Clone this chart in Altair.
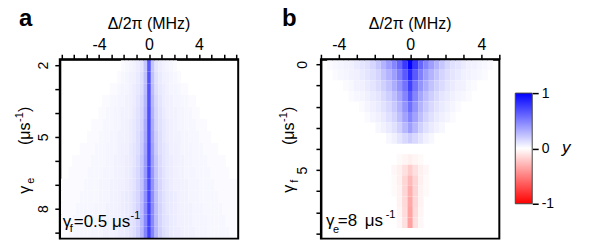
import altair as alt
import pandas as pd

FONT = "Liberation Sans"

# Cell sizes of the two maps
DELTA_STEP = 0.3   # MHz
GAMMA_STEP = 0.5   # 1/us

# Panel a: rows of gamma_e, each row given as a half-profile from Delta = 0 outward
gamma_e_rows = [2.0, 2.5, 3.0, 3.5, 4.0, 4.5, 5.0, 5.5, 6.0, 6.5, 7.0, 7.5, 8.0, 8.5, 9.0]
profiles_a = [
    [0.66, 0.22, 0.10, 0.07, 0.05, 0.04, 0.03, 0.02],
    [0.67, 0.24, 0.12, 0.08, 0.06, 0.05, 0.04, 0.03, 0.02],
    [0.68, 0.26, 0.13, 0.09, 0.07, 0.05, 0.04, 0.04, 0.03, 0.02, 0.02],
    [0.68, 0.28, 0.15, 0.10, 0.07, 0.06, 0.05, 0.04, 0.04, 0.03, 0.03, 0.02, 0.02],
    [0.69, 0.30, 0.16, 0.11, 0.08, 0.06, 0.05, 0.05, 0.04, 0.04, 0.03, 0.03, 0.02, 0.02],
    [0.70, 0.32, 0.17, 0.12, 0.09, 0.07, 0.06, 0.05, 0.04, 0.04, 0.03, 0.03, 0.03, 0.02, 0.02, 0.02],
    [0.70, 0.34, 0.19, 0.13, 0.09, 0.07, 0.06, 0.05, 0.05, 0.04, 0.04, 0.03, 0.03, 0.03, 0.02, 0.02, 0.02],
    [0.71, 0.36, 0.20, 0.13, 0.10, 0.08, 0.06, 0.06, 0.05, 0.04, 0.04, 0.04, 0.03, 0.03, 0.03, 0.02, 0.02, 0.02, 0.02],
    [0.71, 0.38, 0.22, 0.14, 0.10, 0.08, 0.07, 0.06, 0.05, 0.05, 0.04, 0.04, 0.03, 0.03, 0.03, 0.03, 0.02, 0.02, 0.02, 0.02, 0.02],
    [0.72, 0.40, 0.23, 0.15, 0.11, 0.08, 0.07, 0.06, 0.05, 0.05, 0.04, 0.04, 0.04, 0.03, 0.03, 0.03, 0.03, 0.02, 0.02, 0.02, 0.02, 0.02],
    [0.72, 0.42, 0.24, 0.16, 0.11, 0.09, 0.07, 0.06, 0.06, 0.05, 0.05, 0.04, 0.04, 0.04, 0.03, 0.03, 0.03, 0.03, 0.02, 0.02, 0.02, 0.02, 0.02, 0.02],
    [0.73, 0.44, 0.25, 0.16, 0.12, 0.09, 0.08, 0.07, 0.06, 0.05, 0.05, 0.04, 0.04, 0.04, 0.03, 0.03, 0.03, 0.03, 0.03, 0.02, 0.02, 0.02, 0.02, 0.02],
    [0.74, 0.45, 0.26, 0.17, 0.12, 0.09, 0.08, 0.07, 0.06, 0.05, 0.05, 0.05, 0.04, 0.04, 0.04, 0.03, 0.03, 0.03, 0.03, 0.03, 0.02, 0.02, 0.02, 0.02],
    [0.74, 0.46, 0.27, 0.17, 0.12, 0.10, 0.08, 0.07, 0.06, 0.06, 0.05, 0.05, 0.04, 0.04, 0.04, 0.04, 0.03, 0.03, 0.03, 0.03, 0.03, 0.02, 0.02, 0.02],
    [0.75, 0.48, 0.28, 0.18, 0.13, 0.10, 0.08, 0.07, 0.07, 0.06, 0.05, 0.05, 0.05, 0.04, 0.04, 0.04, 0.03, 0.03, 0.03, 0.03, 0.03, 0.03, 0.02, 0.02],
]

# Panel b: rows of gamma_f, same layout
gamma_f_rows = [0.0, 0.5, 1.0, 1.5, 2.0, 2.5, 3.0, 3.5, 4.0, 4.5, 5.0, 5.5, 6.0, 6.5, 7.0, 7.5, 8.0]
profiles_b = [
    [1.00, 0.78, 0.60, 0.48, 0.38, 0.30, 0.22, 0.16, 0.12, 0.10, 0.08, 0.06, 0.05, 0.04, 0.03, 0.02],
    [0.85, 0.65, 0.50, 0.38, 0.30, 0.23, 0.17, 0.13, 0.10, 0.08, 0.06, 0.05, 0.04, 0.03, 0.02],
    [0.75, 0.55, 0.42, 0.32, 0.24, 0.18, 0.14, 0.10, 0.08, 0.06, 0.05, 0.03, 0.02],
    [0.66, 0.48, 0.35, 0.26, 0.19, 0.14, 0.10, 0.08, 0.06, 0.04, 0.03, 0.02],
    [0.57, 0.42, 0.30, 0.21, 0.15, 0.11, 0.08, 0.06, 0.04, 0.02],
    [0.48, 0.36, 0.25, 0.17, 0.12, 0.08, 0.06, 0.04, 0.02],
    [0.38, 0.28, 0.18, 0.12, 0.08, 0.05, 0.03],
    [0.20, 0.15, 0.10, 0.06, 0.03],
    [0.00],
    [-0.06, -0.04, -0.02],
    [-0.20, -0.12, -0.06, -0.03],
    [-0.28, -0.16, -0.06, -0.02],
    [-0.32, -0.16, -0.05, -0.02],
    [-0.34, -0.15, -0.05],
    [-0.36, -0.14, -0.04],
    [-0.37, -0.12, -0.03],
    [0.00],
]

colorbar_ticks = [-1, 0, 1]


def grid(rows, profiles):
    recs = []
    for g, half in zip(rows, profiles):
        n = len(half)
        for k in range(-(n - 1), n):
            d = k * DELTA_STEP
            recs.append({
                "d0": d - DELTA_STEP / 2, "d1": d + DELTA_STEP / 2,
                "g0": g - GAMMA_STEP / 2, "g1": g + GAMMA_STEP / 2,
                "v": half[abs(k)],
            })
    return pd.DataFrame(recs)


df_a = grid(gamma_e_rows, profiles_a)
df_b = grid(gamma_f_rows, profiles_b)
one = pd.DataFrame({"k": [0]})

cscale = alt.Scale(domain=[-1, 0, 1], range=["#ff0000", "#ffffff", "#0000ff"], interpolate="rgb")

W, H = 179, 180
neg = "(datum.value < 0 ? '-' : '') + abs(datum.value)"


def heat(df, xdom, xticks, ydom, yticks, ylabel_test, ylabpad):
    return alt.Chart(df).mark_rect(clip=True).encode(
        x=alt.X("d0:Q", scale=alt.Scale(domain=xdom, nice=False, zero=False),
                axis=alt.Axis(orient="top", values=xticks, title=None, labelFlush=False,
                              labelExpr=f"datum.value % 4 === 0 ? {neg} : ''",
                              labelFontSize=16, labelPadding=5, labelBaseline="alphabetic")),
        x2="d1:Q",
        y=alt.Y("g0:Q", scale=alt.Scale(domain=ydom, reverse=True, nice=False, zero=False),
                axis=alt.Axis(orient="left", values=yticks, title=None, labelFlush=False,
                              labelExpr=f"{ylabel_test} ? '' + datum.value : ''",
                              labelAngle=270, labelAlign="center", labelBaseline="alphabetic",
                              labelFontSize=14, labelPadding=ylabpad)),
        y2="g1:Q",
        color=alt.Color("v:Q", scale=cscale, legend=None),
    )


def txt(s, x, y, size=16, angle=0, weight="normal", style="normal", align="left"):
    return alt.Chart(one).mark_text(
        text=s, font=FONT, fontSize=size, angle=angle, fontWeight=weight,
        fontStyle=style, align=align, baseline="alphabetic", color="black",
    ).encode(x=alt.value(x), y=alt.value(y))


# whole-figure extent (transparent) that fixes the drawing size
extent = alt.Chart(one).mark_rect(fill="white", opacity=0).encode(
    x=alt.value(-59), x2=alt.value(538), y=alt.value(-58), y2=alt.value(192))

# black box around each plot area, drawn above the cells
box = alt.Chart(one).mark_rect(fillOpacity=0, stroke="black", strokeWidth=2).encode(
    x=alt.value(0), x2=alt.value(W), y=alt.value(0), y2=alt.value(H))

heat_a = heat(df_a, [-7.15, 7.15], list(range(-7, 8)), [1.75, 9.25], list(range(2, 10)),
              "(datum.value - 2) % 3 === 0", 7)

panel_a = alt.layer(
    extent,
    heat_a,
    box,
    txt("a", -41, -33, size=24, weight="bold"),
    txt("Δ/2π (MHz)", 89.5, -30, align="center"),
    txt("γ", -30, 135, angle=270),
    txt("e", -26, 125, size=11, angle=270),
    txt("(μs", -30, 86, angle=270),
    txt("-1", -37, 63, size=11, angle=270),
    txt(")", -30, 53, angle=270),
    txt("γ", 3, 168, size=17),
    txt("f", 10, 173, size=11),
    txt("=0.5 μs", 14, 168, size=17),
    txt("-1", 71, 160, size=11),
).properties(width=W, height=H)

heat_b = heat(df_b, [-5, 5], list(range(-5, 6)), [-0.25, 8.25], list(range(0, 9)),
              "datum.value % 5 === 0", 9)

colorbar = alt.Chart(pd.DataFrame({"lo": [-1], "hi": [1]})).mark_rect(
    fill=alt.Gradient(
        gradient="linear",
        stops=[alt.GradientStop(color="#ff0000", offset=0),
               alt.GradientStop(color="#ffffff", offset=0.5),
               alt.GradientStop(color="#0000ff", offset=1)],
        x1=0, x2=0, y1=1, y2=0),
    stroke="#444444", strokeWidth=1,
).encode(
    x=alt.value(195), x2=alt.value(212),
    y=alt.Y("lo:Q", scale=alt.Scale(domain=[-1, 1], range=[145, 34]),
            axis=alt.Axis(orient="right", offset=33, values=colorbar_ticks, title=None,
                          domain=False, tickSize=6, labelPadding=3, labelFontSize=14,
                          labelFlush=False, labelExpr=neg)),
    y2="hi:Q",
)

panel_b = alt.layer(
    heat_b,
    box,
    colorbar,
    txt("b", -39, -33, size=24, weight="bold"),
    txt("Δ/2π (MHz)", 89.5, -30, align="center"),
    txt("γ", -27, 134, angle=270),
    txt("f", -23, 124, size=11, angle=270),
    txt("(μs", -27, 86, angle=270),
    txt("-1", -34, 63, size=11, angle=270),
    txt(")", -27, 53, angle=270),
    txt("γ", 5, 167, size=17),
    txt("e", 12, 174, size=11),
    txt("=8", 17, 167, size=17),
    txt("μs", 44, 167, size=17),
    txt("-1", 65, 159, size=11),
    txt("y", 242, 94, size=17, style="italic"),
).resolve_scale(y="independent").properties(width=W, height=H)

chart = alt.hconcat(panel_a, panel_b, spacing=83, bounds="flush").properties(
    padding=0, background="white"
).configure_view(
    stroke="transparent"
).configure_axis(
    grid=False, domainColor="black", domainWidth=2, tickColor="black", tickWidth=1.5,
    tickSize=5, labelFont=FONT, labelColor="black", zindex=1,
)

chart.save("out.html", embed_options={"renderer": "svg", "actions": False})
